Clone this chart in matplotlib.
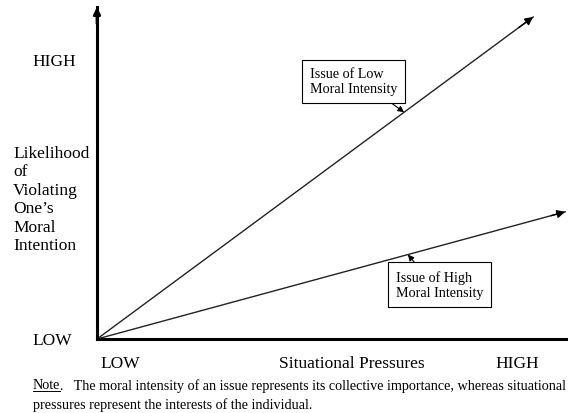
import matplotlib
matplotlib.use("Agg")
import matplotlib.pyplot as plt

plt.rcParams['font.family'] = ['Liberation Serif', 'DejaVu Serif']

# Conceptual data (0 = LOW, 1 = HIGH)
low_x = [0.0, 0.926]
low_y = [0.0, 0.970]          # Issue of Low Moral Intensity
high_x = [0.0, 0.994]
high_y = [0.0, 0.383]         # Issue of High Moral Intensity

x_ticks = ["LOW", "Situational Pressures", "HIGH"]
y_ticks = ["LOW", "HIGH"]
y_label = "Likelihood\nof\nViolating\nOne\u2019s\nMoral\nIntention"
labels = ["Issue of Low\nMoral Intensity", "Issue of High\nMoral Intensity"]
note = ("The moral intensity of an issue represents its collective importance, whereas situational\n"
        "pressures represent the interests of the individual.")

W, H = 568, 414
fig = plt.figure(figsize=(W / 100, H / 100), dpi=100)
ax = fig.add_axes([97 / W, 74 / H, 471 / W, 332 / H])
ax.set_xlim(0, 1)
ax.set_ylim(0, 1)
for s in ['top', 'right']:
    ax.spines[s].set_visible(False)
ax.spines['left'].set_linewidth(2.2)
ax.spines['bottom'].set_linewidth(2.2)
ax.set_xticks([])
ax.set_yticks([])
ax.patch.set_alpha(0)

fs = 12.5
fsb = 10.2
lw = 1.0

# y-axis arrow head
ax.annotate("", xy=(0, 1.0), xytext=(0, 0.95),
            arrowprops=dict(arrowstyle='-|>', color='black', lw=2.0,
                            mutation_scale=10, shrinkA=0, shrinkB=0),
            annotation_clip=False)

# Lines with arrowheads
for xs, ys in [(low_x, low_y), (high_x, high_y)]:
    ax.plot(xs, ys, color='#222222', lw=lw)
    ax.annotate("", xy=(xs[1], ys[1]), xytext=(xs[1] - 0.03, ys[1] - 0.03 * ys[1] / xs[1]),
                arrowprops=dict(arrowstyle='-|>', color='black', lw=lw,
                                mutation_scale=12, shrinkA=0, shrinkB=0))

# Box annotations
tip1 = 0.652
ax.annotate(labels[0], xy=(tip1, tip1 * low_y[1] / low_x[1]), xytext=(0.545, 0.776),
            ha='center', va='center', fontsize=fsb, multialignment='left',
            bbox=dict(boxstyle='square,pad=0.55', fc='white', ec='black', lw=0.8),
            arrowprops=dict(arrowstyle='-|>', color='black', lw=0.8, mutation_scale=9,
                            shrinkA=0, shrinkB=0, relpos=(0.81, 0.0)))
tip2 = 0.660
ax.annotate(labels[1], xy=(tip2, tip2 * high_y[1] / high_x[1]), xytext=(0.727, 0.164),
            ha='center', va='center', fontsize=fsb, multialignment='left',
            bbox=dict(boxstyle='square,pad=0.55', fc='white', ec='black', lw=0.8),
            arrowprops=dict(arrowstyle='-|>', color='black', lw=0.8, mutation_scale=9,
                            shrinkA=0, shrinkB=0, relpos=(0.29, 1.0)))

# Axis texts (figure pixel coords)
def ftxt(x, y, s, size=fs, **kw):
    fig.text(x / W, 1 - y / H, s, fontsize=size, **kw)

ftxt(54, 62, y_ticks[1], ha='center', va='center')
ftxt(52, 341, y_ticks[0], ha='center', va='center')
ftxt(13, 146, y_label, ha='left', va='top', linespacing=1.2)
ftxt(120, 364, x_ticks[0], ha='center', va='center')
ftxt(352, 364, x_ticks[1], ha='center', va='center')
ftxt(517, 364, x_ticks[2], ha='center', va='center')

fs2 = 10.2
t = fig.text(33 / W, 1 - 386 / H, "Note", fontsize=fs2, ha='left', va='center')
fig.canvas.draw()
bb = t.get_window_extent()
x1 = bb.x1
fig.add_artist(plt.Line2D([33 / W, x1 / W], [(bb.y0 + 1) / H, (bb.y0 + 1) / H],
                          color='black', lw=0.7))
fig.text(x1 / W, 1 - 386 / H, ".   " + note.split("\n")[0], fontsize=fs2, ha='left', va='center')
ftxt(33, 405, note.split("\n")[1], size=fs2, ha='left', va='center')

fig.savefig("out.png", dpi=100)
